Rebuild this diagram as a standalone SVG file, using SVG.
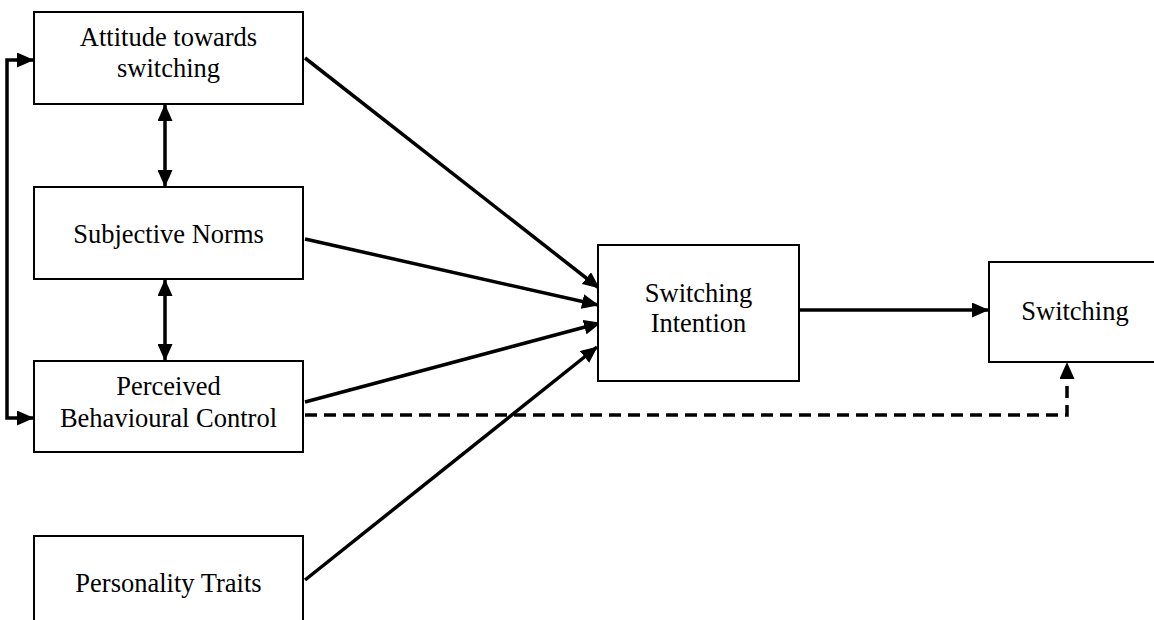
<svg xmlns="http://www.w3.org/2000/svg" width="1154" height="620" viewBox="0 0 1154 620">
<style>
.box{fill:#fff;stroke:#000;stroke-width:2}
.lbl{font-family:"Liberation Serif","Times New Roman",serif;font-size:26.5px;fill:#000;text-anchor:middle}
.c{fill:none;stroke:#000;stroke-width:3.5}
.dash{stroke-dasharray:12 7}
</style>
<defs>
<marker id="ah" viewBox="0 0 17 15" markerUnits="userSpaceOnUse" markerWidth="17" markerHeight="15" refX="16" refY="7.5" orient="auto-start-reverse">
<path d="M0,0 L17,7.5 L0,15 z" fill="#000"/>
</marker>
</defs>
<rect width="1154" height="620" fill="#fff"/>
<g id="connectors">
<path class="c" d="M305,58 L599,288" marker-end="url(#ah)"/>
<path class="c" d="M305,239 L598,305" marker-end="url(#ah)"/>
<path class="c" d="M305,402 L600,323" marker-end="url(#ah)"/>
<path class="c" d="M305,580 L597,347" marker-end="url(#ah)"/>
<path class="c" d="M800,310 L988,310" marker-end="url(#ah)"/>
<path class="c dash" d="M305,415 H1067 V363" marker-end="url(#ah)"/>
<path class="c" d="M33,60 H7 V418 H33" marker-start="url(#ah)" marker-end="url(#ah)"/>
<path class="c" d="M165,105 V186" marker-start="url(#ah)" marker-end="url(#ah)"/>
<path class="c" d="M165,280 V360" marker-start="url(#ah)" marker-end="url(#ah)"/>
</g>
<g id="attitude">
<rect class="box" x="34" y="12" width="269" height="92"/>
<text class="lbl" x="168.5" y="46">Attitude towards</text>
<text class="lbl" x="168.5" y="77">switching</text>
</g>
<g id="subjective-norms">
<rect class="box" x="34" y="187" width="269" height="92"/>
<text class="lbl" x="168.5" y="243">Subjective Norms</text>
</g>
<g id="pbc">
<rect class="box" x="34" y="361" width="269" height="91"/>
<text class="lbl" x="168.5" y="395">Perceived</text>
<text class="lbl" x="168.5" y="427">Behavioural Control</text>
</g>
<g id="personality">
<rect class="box" x="34" y="536" width="269" height="100"/>
<text class="lbl" x="168.5" y="592">Personality Traits</text>
</g>
<g id="switching-intention">
<rect class="box" x="598" y="245" width="201" height="136"/>
<text class="lbl" x="698.5" y="302">Switching</text>
<text class="lbl" x="698.5" y="332">Intention</text>
</g>
<g id="switching">
<rect class="box" x="989" y="262" width="180" height="100"/>
<text class="lbl" x="1075" y="320">Switching</text>
</g>
</svg>
